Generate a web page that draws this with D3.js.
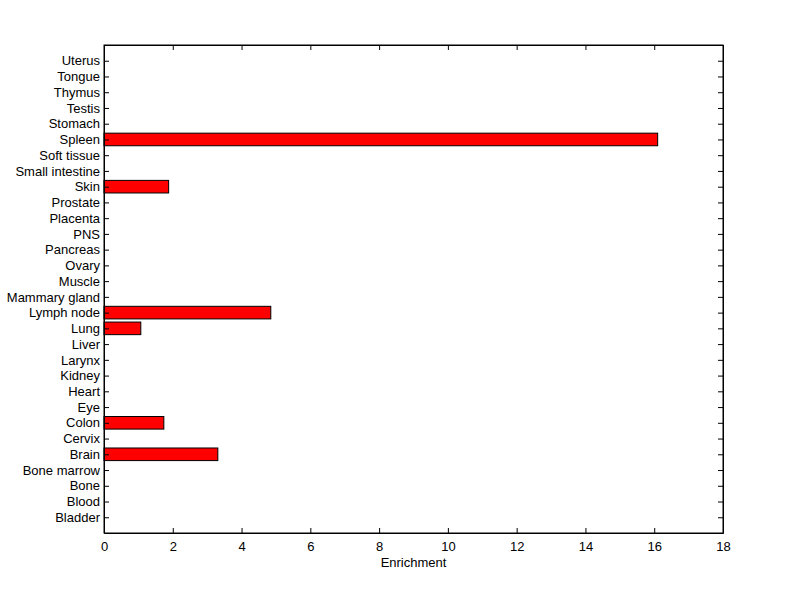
<!DOCTYPE html>
<html>
<head>
<meta charset="utf-8">
<script src="https://cdn.jsdelivr.net/npm/d3@7"></script>
<style>
  body { margin: 0; background: #fff; }
  text { font-family: "Liberation Sans", Arial, sans-serif; font-size: 13px; fill: #000; }
</style>
</head>
<body>
<div id="chart"></div>
<script>
// tissues, bottom to top
const tissues = ['Bladder', 'Blood', 'Bone', 'Bone marrow', 'Brain', 'Cervix', 'Colon', 'Eye',
  'Heart', 'Kidney', 'Larynx', 'Liver', 'Lung', 'Lymph node', 'Mammary gland', 'Muscle',
  'Ovary', 'Pancreas', 'PNS', 'Placenta', 'Prostate', 'Skin', 'Small intestine', 'Soft tissue',
  'Spleen', 'Stomach', 'Testis', 'Thymus', 'Tongue', 'Uterus'];
const enrichment = [0, 0, 0, 0, 3.31, 0, 1.74, 0,
  0, 0, 0, 0, 1.07, 4.85, 0, 0,
  0, 0, 0, 0, 0, 1.88, 0, 0,
  16.1, 0, 0, 0, 0, 0];
const xTicks = [0, 2, 4, 6, 8, 10, 12, 14, 16, 18];

const width = 800, height = 599;
const margin = { top: 45, right: 77, bottom: 66, left: 104 };
const innerW = width - margin.left - margin.right;
const innerH = height - margin.top - margin.bottom;

const svg = d3.select('#chart').append('svg')
  .attr('width', width)
  .attr('height', height);

const g = svg.append('g')
  .attr('transform', `translate(${margin.left},${margin.top})`);

const x = d3.scaleLinear().domain([0, 18]).range([0, innerW]);
// positions 1..n, with half-slot padding like matlab barh
const y = d3.scaleLinear().domain([0, tissues.length + 1]).range([innerH, 0]);
const barH = (y(0) - y(1)) * 0.8;

// bars (only nonzero values show)
g.selectAll('.bar')
  .data(tissues.map((t, i) => ({ t, v: enrichment[i], pos: i + 1 })).filter(d => d.v > 0))
  .enter()
  .append('rect')
  .attr('class', 'bar')
  .attr('x', x(0))
  .attr('y', d => y(d.pos) - barH / 2)
  .attr('width', d => x(d.v) - x(0))
  .attr('height', barH)
  .attr('fill', '#ff0000')
  .attr('stroke', '#000')
  .attr('stroke-width', 1);

const yPos = tissues.map((t, i) => i + 1);

// axes
const xAxis = d3.axisBottom(x).tickValues(xTicks).tickSizeInner(-5).tickSizeOuter(0).tickPadding(9);
const xTop = d3.axisTop(x).tickValues(xTicks).tickSizeInner(-5).tickSizeOuter(0).tickFormat('');
const yAxis = d3.axisLeft(y).tickValues(yPos).tickSizeInner(-5).tickSizeOuter(0).tickPadding(4)
  .tickFormat(d => tissues[d - 1]);
const yRight = d3.axisRight(y).tickValues(yPos).tickSizeInner(-5).tickSizeOuter(0).tickFormat('');

g.append('g').attr('transform', `translate(0,${innerH})`).call(xAxis);
g.append('g').call(xTop);
g.append('g').call(yAxis);
g.append('g').attr('transform', `translate(${innerW},0)`).call(yRight);

g.selectAll('.domain').attr('stroke', '#000');
g.selectAll('.tick line').attr('stroke', '#000');
g.selectAll('.tick text').style('font-size', '13px').attr('fill', '#000');

// frame
g.append('rect')
  .attr('width', innerW)
  .attr('height', innerH)
  .attr('fill', 'none')
  .attr('stroke', '#000');

// x label
svg.append('text')
  .attr('x', margin.left + innerW / 2)
  .attr('y', 567)
  .attr('text-anchor', 'middle')
  .text('Enrichment');
</script>
</body>
</html>
